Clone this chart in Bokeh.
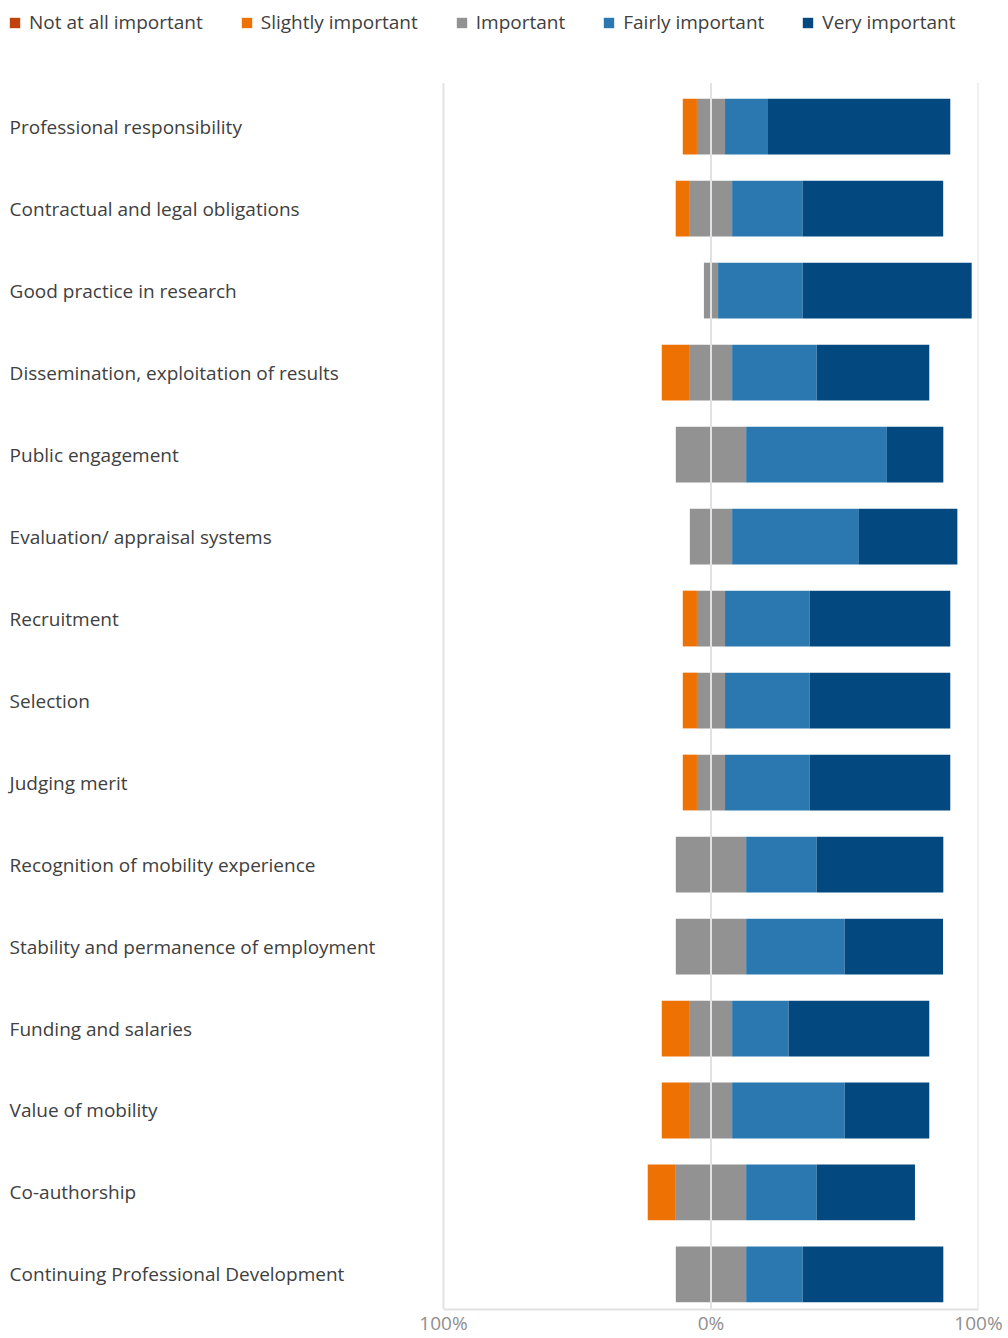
import numpy as np
from bokeh.plotting import figure
from bokeh.models import ColumnDataSource, Range1d, FixedTicker
from bokeh.core.properties import value
from bokeh.embed import file_html
from bokeh.resources import INLINE

categories = [
    "Professional responsibility",
    "Contractual and legal obligations",
    "Good practice in research",
    "Dissemination, exploitation of results",
    "Public engagement",
    "Evaluation/ appraisal systems",
    "Recruitment",
    "Selection",
    "Judging merit",
    "Recognition of mobility experience",
    "Stability and permanence of employment",
    "Funding and salaries",
    "Value of mobility",
    "Co-authorship",
    "Continuing Professional Development",
]

not_at_all = [0, 0, 0, 0, 0, 0, 0, 0, 0, 0, 0, 0, 0, 0, 0]
slightly = [5.3, 5.3, 0, 10.5, 0, 0, 5.3, 5.3, 5.3, 0, 0, 10.5, 10.5, 10.5, 0]
important = [10.5, 15.8, 5.3, 15.8, 26.3, 15.8, 10.5, 10.5, 10.5, 26.3, 26.3, 15.8, 15.8, 26.3, 26.3]
fairly = [15.8, 26.3, 31.6, 31.6, 52.6, 47.4, 31.6, 31.6, 31.6, 26.3, 36.8, 21.1, 42.1, 26.3, 21.1]
very = [68.4, 52.6, 63.2, 42.1, 21.1, 36.8, 52.6, 52.6, 52.6, 47.4, 36.8, 52.6, 31.6, 36.8, 52.6]

levels = ["Not at all important", "Slightly important", "Important", "Fairly important", "Very important"]
colors = ["#C0410C", "#EE7203", "#929292", "#2B78B0", "#03497F"]

tick_values = [-100, 0, 100]
tick_labels = ["100%", "0%", "100%"]

n_at = np.array(not_at_all, float)
sl = np.array(slightly, float)
im = np.array(important, float)
fa = np.array(fairly, float)
ve = np.array(very, float)

half = im / 2.0
bounds = [
    (-(half + sl + n_at), -(half + sl)),
    (-(half + sl), -half),
    (-half, half),
    (half, half + fa),
    (half + fa, half + fa + ve),
]

ys = np.arange(len(categories))
n = len(categories)

W, H = 1008, 1338
x_start = -265.6
y_top = -1.5375
y_bottom = 14.427
p = figure(width=W, height=H, output_backend="svg", toolbar_location=None,
           x_range=Range1d(x_start, 100), y_range=Range1d(y_bottom, y_top),
           y_axis_location=None, min_border_left=0, min_border_right=30,
           min_border_top=0, min_border_bottom=0)
p.outline_line_color = None
p.xgrid.visible = False
p.ygrid.visible = False
p.background_fill_color = "white"

for (l, r), lab, col in zip(bounds, levels, colors):
    src = ColumnDataSource(dict(y=ys, left=l, right=r))
    p.hbar(y="y", left="left", right="right", height=0.68, source=src,
           fill_color=col, line_color=None, legend_label=lab)

# grid lines over bars
p.segment(x0=tick_values, x1=tick_values, y0=[-0.53] * len(tick_values),
          y1=[y_bottom] * len(tick_values), line_color="#e2e2e2", line_width=2)

# category labels (left aligned)
p.text(x=[x_start + 3.4] * n, y=ys, text=categories,
       text_align="left", text_baseline="middle", text_font=value("Open Sans"),
       text_font_size="19px", text_color="#404040")

ax = p.xaxis[0]
ax.ticker = FixedTicker(ticks=tick_values)
ax.major_label_overrides = {t: s for t, s in zip(tick_values, tick_labels)}
ax.bounds = (-100, 100)
ax.axis_line_color = "#e2e2e2"
ax.axis_line_width = 2
ax.major_tick_line_color = None
ax.minor_tick_line_color = None
ax.major_label_standoff = -6
ax.major_label_text_font = "Open Sans"
ax.major_label_text_font_size = "19px"
ax.major_label_text_color = "#8f8f8f"

lg = p.legend[0]
lg.location = "top_left"
lg.orientation = "horizontal"
lg.margin = 8
lg.padding = 9
lg.spacing = 37
lg.glyph_width = 13
lg.glyph_height = 13
lg.label_standoff = 8
lg.label_height = 28
lg.label_text_font = "Open Sans"
lg.label_text_font_size = "19px"
lg.label_text_color = "#404040"
lg.border_line_color = None
lg.background_fill_alpha = 0

open("out.html", "w").write(file_html(p, INLINE))
